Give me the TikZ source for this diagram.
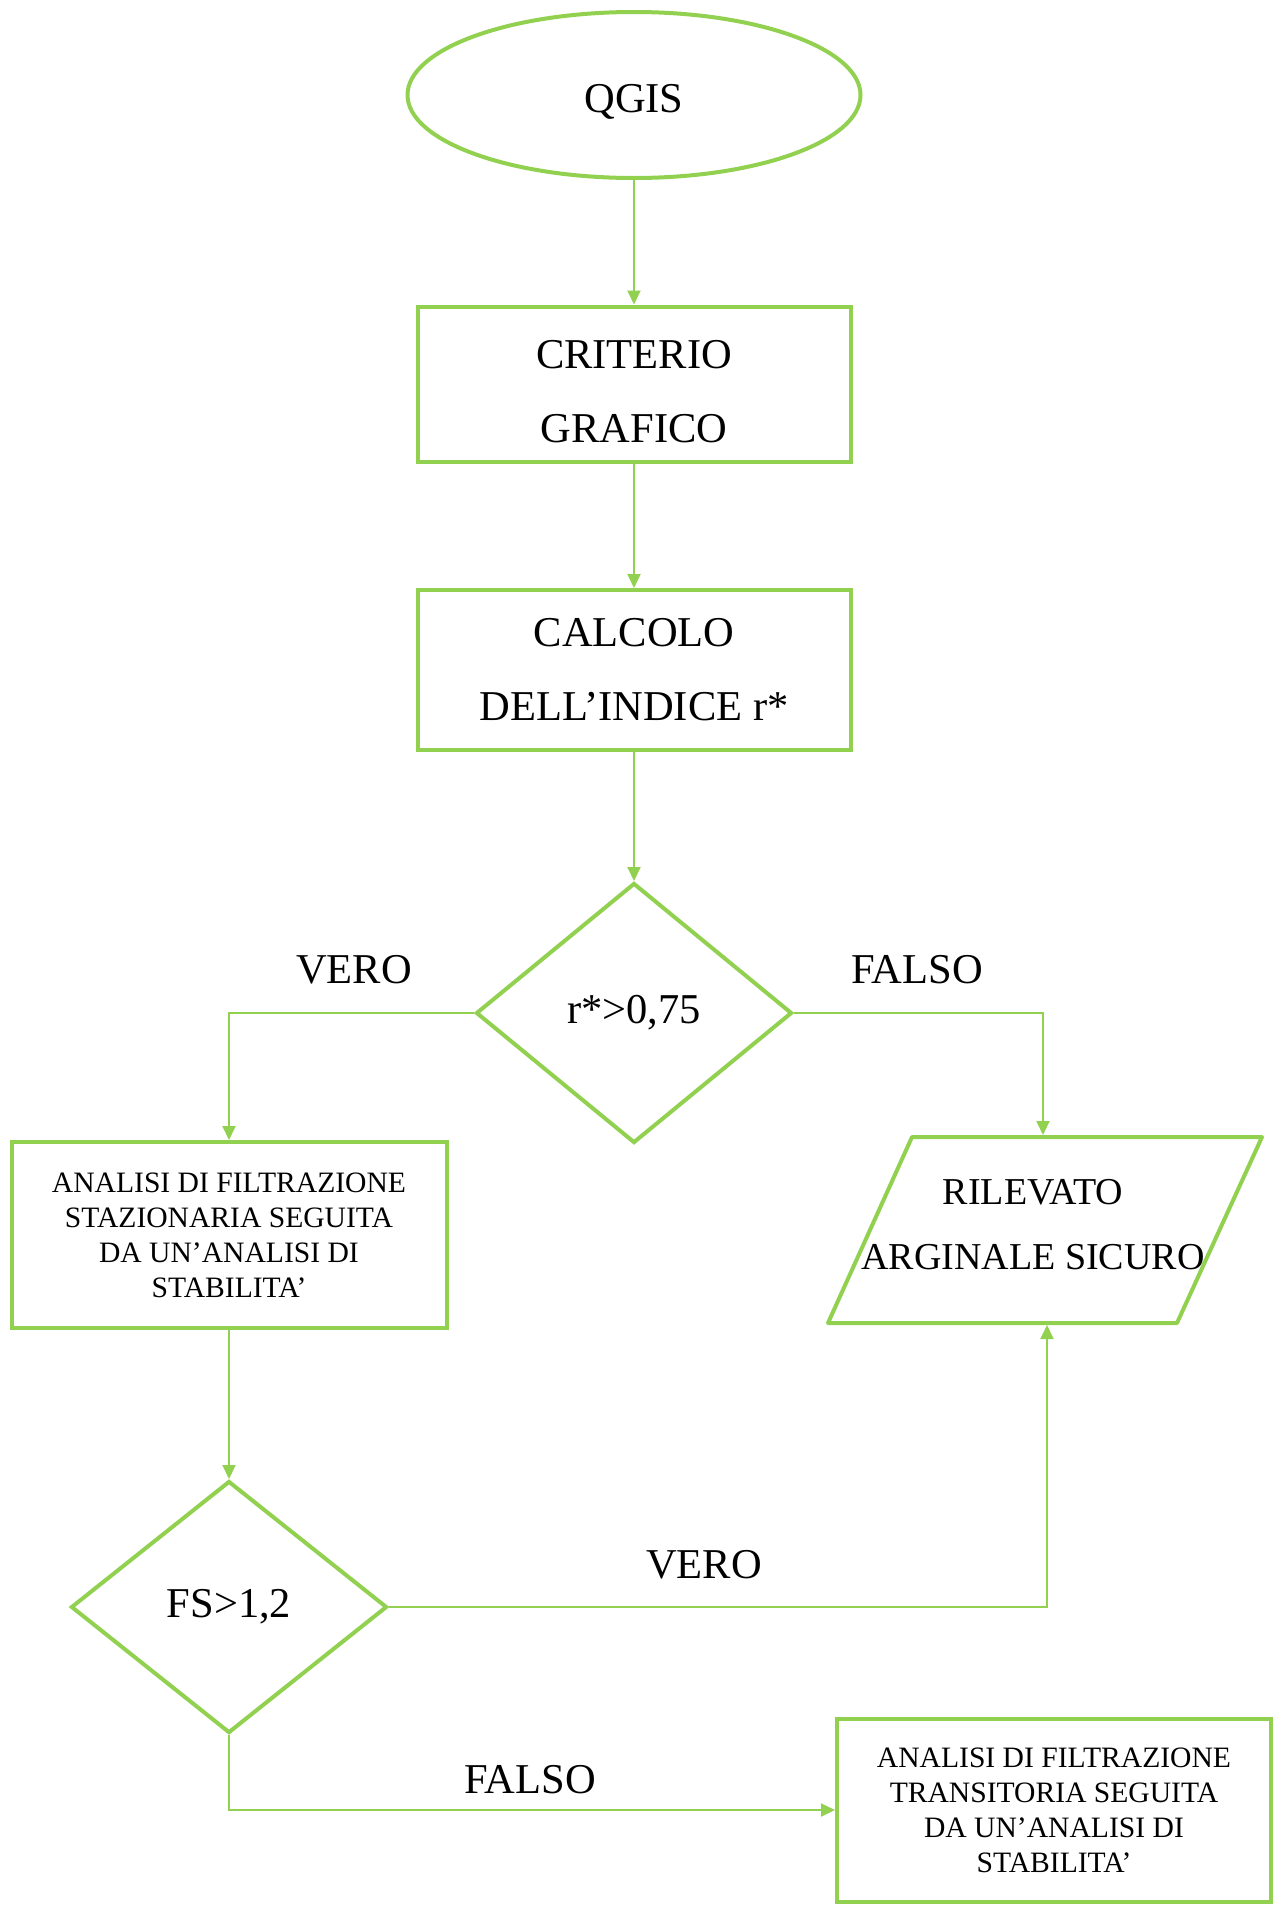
\documentclass[tikz,border=0pt]{standalone}
\usepackage{fontspec}
\setmainfont{Liberation Serif}
\usepackage{tikz}
\usetikzlibrary{shapes.geometric, arrows.meta}
\definecolor{flowgreen}{RGB}{146,208,80}
\newcommand{\bigtxt}{\fontsize{42.5}{74}\selectfont}
\newcommand{\smalltxt}{\fontsize{29.6}{35}\selectfont}
\newcommand{\lowered}[1]{\raisebox{-7pt}[\height][\depth]{#1}}
\tikzstyle{startstop} = [ellipse, draw=flowgreen, line width=4pt, minimum width=453pt, minimum height=166pt, font=\bigtxt]
\tikzstyle{process} = [rectangle, draw=flowgreen, line width=4pt, align=center, font=\bigtxt]
\tikzstyle{longtext} = [process, font=\smalltxt]
\tikzstyle{decision} = [diamond, draw=flowgreen, line width=4pt, font=\bigtxt]
\tikzstyle{io} = [draw=flowgreen, line width=4pt, line join=round]
\tikzstyle{arrow} = [draw=flowgreen, line width=2pt, -{Triangle[length=14pt,width=13pt]}]

\begin{document}
\begin{tikzpicture}[x=1pt,y=-1pt]
      \useasboundingbox (0,0) rectangle (1276,1906);
      \node[startstop] (qgis) at (634,95) {\lowered{QGIS}};
      \node[process, minimum width=433pt, minimum height=155pt] (crit) at (634,384) {\lowered{\begin{tabular}{@{}c@{}}CRITERIO\\GRAFICO\end{tabular}}};
      \node[process, minimum width=433pt, minimum height=160pt] (calc) at (634,670) {CALCOLO\\DELL’INDICE r*};
      \node[decision, minimum width=316pt, minimum height=260pt] (dec1) at (634,1013) {r*>0,75};
      \node[longtext, minimum width=435pt, minimum height=186pt] (staz) at (229,1235) {ANALISI DI FILTRAZIONE\\STAZIONARIA SEGUITA\\DA UN’ANALISI DI\\STABILITA’};
      % parallelogram drawn by hand
      \draw[io, shift={(1045,1230)}] (-133,-93) -- (217,-93) -- (132,93) -- (-217,93) -- cycle;
      \coordinate (safe top) at (1043,1135);
      \coordinate (safe bottom) at (1047,1325);
      \node[align=center, font=\fontsize{38}{65}\selectfont] (safe) at (1033,1225) {RILEVATO\\ARGINALE SICURO};
      \node[decision, minimum width=316pt, minimum height=252pt] (dec2) at (229,1607) {FS>1,2};
      \node[longtext, minimum width=434pt, minimum height=183pt] (trans) at (1054,1810) {ANALISI DI FILTRAZIONE\\TRANSITORIA SEGUITA\\DA UN’ANALISI DI\\STABILITA’};
      % labels on the branches
      \node[font=\bigtxt] (vero1) at (354,970) {VERO};
      \node[font=\bigtxt] (falso1) at (917,970) {FALSO};
      \node[font=\bigtxt] (vero2) at (704,1565) {VERO};
      \node[font=\bigtxt] (falso2) at (530,1780) {FALSO};
      % connectors
      \draw[arrow] (qgis.south) -- (crit.north);
      \draw[arrow] (crit.south) -- (calc.north);
      \draw[arrow] (calc.south) -- (dec1.north);
      \draw[arrow] (dec1.west) -| (staz.north);
      \draw[arrow] (dec1.east) -| (safe top);
      \draw[arrow] (staz.south) -- (dec2.north);
      \draw[arrow] (dec2.east) -| (safe bottom);
      \draw[arrow] (dec2.south) |- (trans.west);
    \end{tikzpicture}
\end{document}
